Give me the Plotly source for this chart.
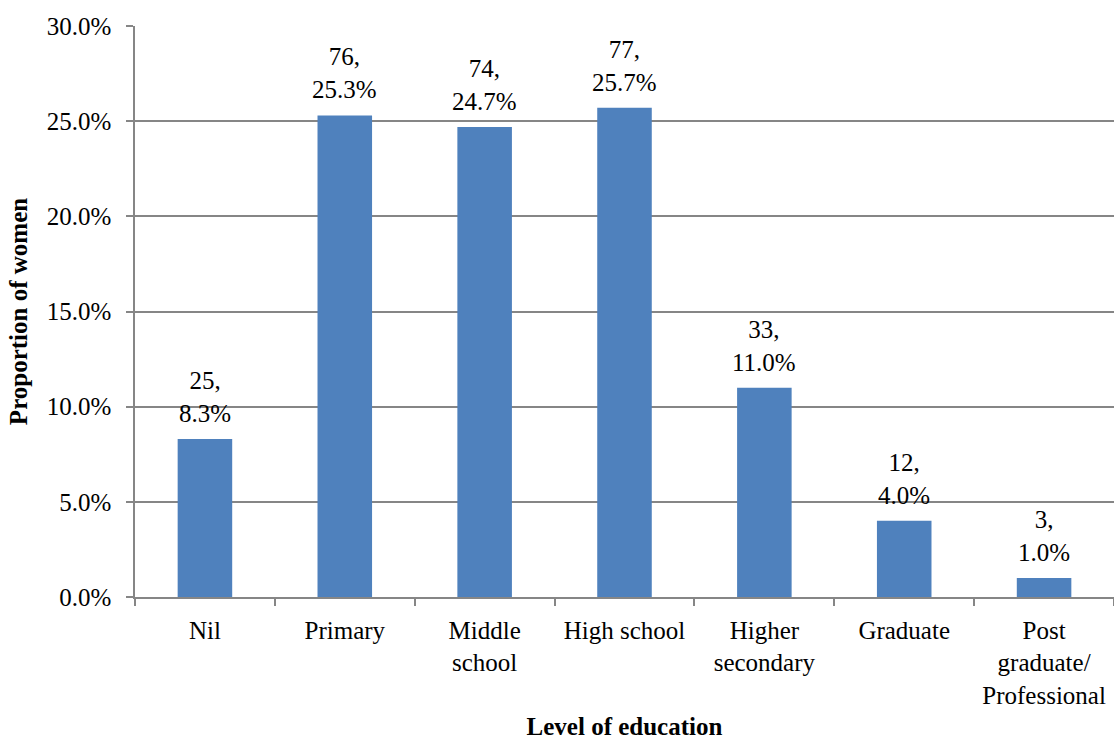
import plotly.graph_objects as go

categories = ["Nil", "Primary", "Middle<br>school", "High school", "Higher<br>secondary",
              "Graduate", "Post<br>graduate/<br>Professional"]
counts = [25, 76, 74, 77, 33, 12, 3]
percents = [8.3, 25.3, 24.7, 25.7, 11.0, 4.0, 1.0]
y_ticks = [0, 5, 10, 15, 20, 25, 30]

labels = [f"{c},<br>{p:.1f}%" for c, p in zip(counts, percents)]

font = "Liberation Serif, Times New Roman, serif"
grid = "#868686"
fs = 25

fig = go.Figure(go.Bar(
    x=categories, y=percents, marker=dict(color="#4F81BD", line=dict(width=0)),
))

for cat, val, lab in zip(categories, percents, labels):
    fig.add_annotation(x=cat, y=val, text=lab, showarrow=False, yanchor="bottom",
                       yshift=10, font=dict(family=font, size=fs, color="#000000"))

fig.update_layout(
    width=1114, height=740,
    margin=dict(l=135, r=0, t=26, b=143),
    paper_bgcolor="white", plot_bgcolor="white",
    bargap=0.61, showlegend=False,
    font=dict(family=font, size=fs, color="#000000"),
    xaxis=dict(
        automargin=False,
        tickson="boundaries", ticks="outside", ticklen=7, tickcolor=grid, tickwidth=1.5,
        showline=True, linecolor=grid, linewidth=1.5, showgrid=False,
        tickfont=dict(family=font, size=fs), ticklabelstandoff=10,
        title=dict(text="<b>Level of education</b>", font=dict(family=font, size=fs), standoff=26),
    ),
    yaxis=dict(
        automargin=False,
        range=[0, 30], tickvals=y_ticks, ticktext=[f"{v:.1f}%" for v in y_ticks],
        ticks="outside", ticklen=7, tickcolor=grid, tickwidth=1.5,
        showline=True, linecolor=grid, linewidth=1.5,
        showgrid=True, gridcolor=grid, gridwidth=1.5, zeroline=False,
        tickfont=dict(family=font, size=fs), ticklabelstandoff=10,
        title=dict(text="<b>Proportion of women</b>", font=dict(family=font, size=fs), standoff=12),
    ),
)

fig.write_html("out.html")
